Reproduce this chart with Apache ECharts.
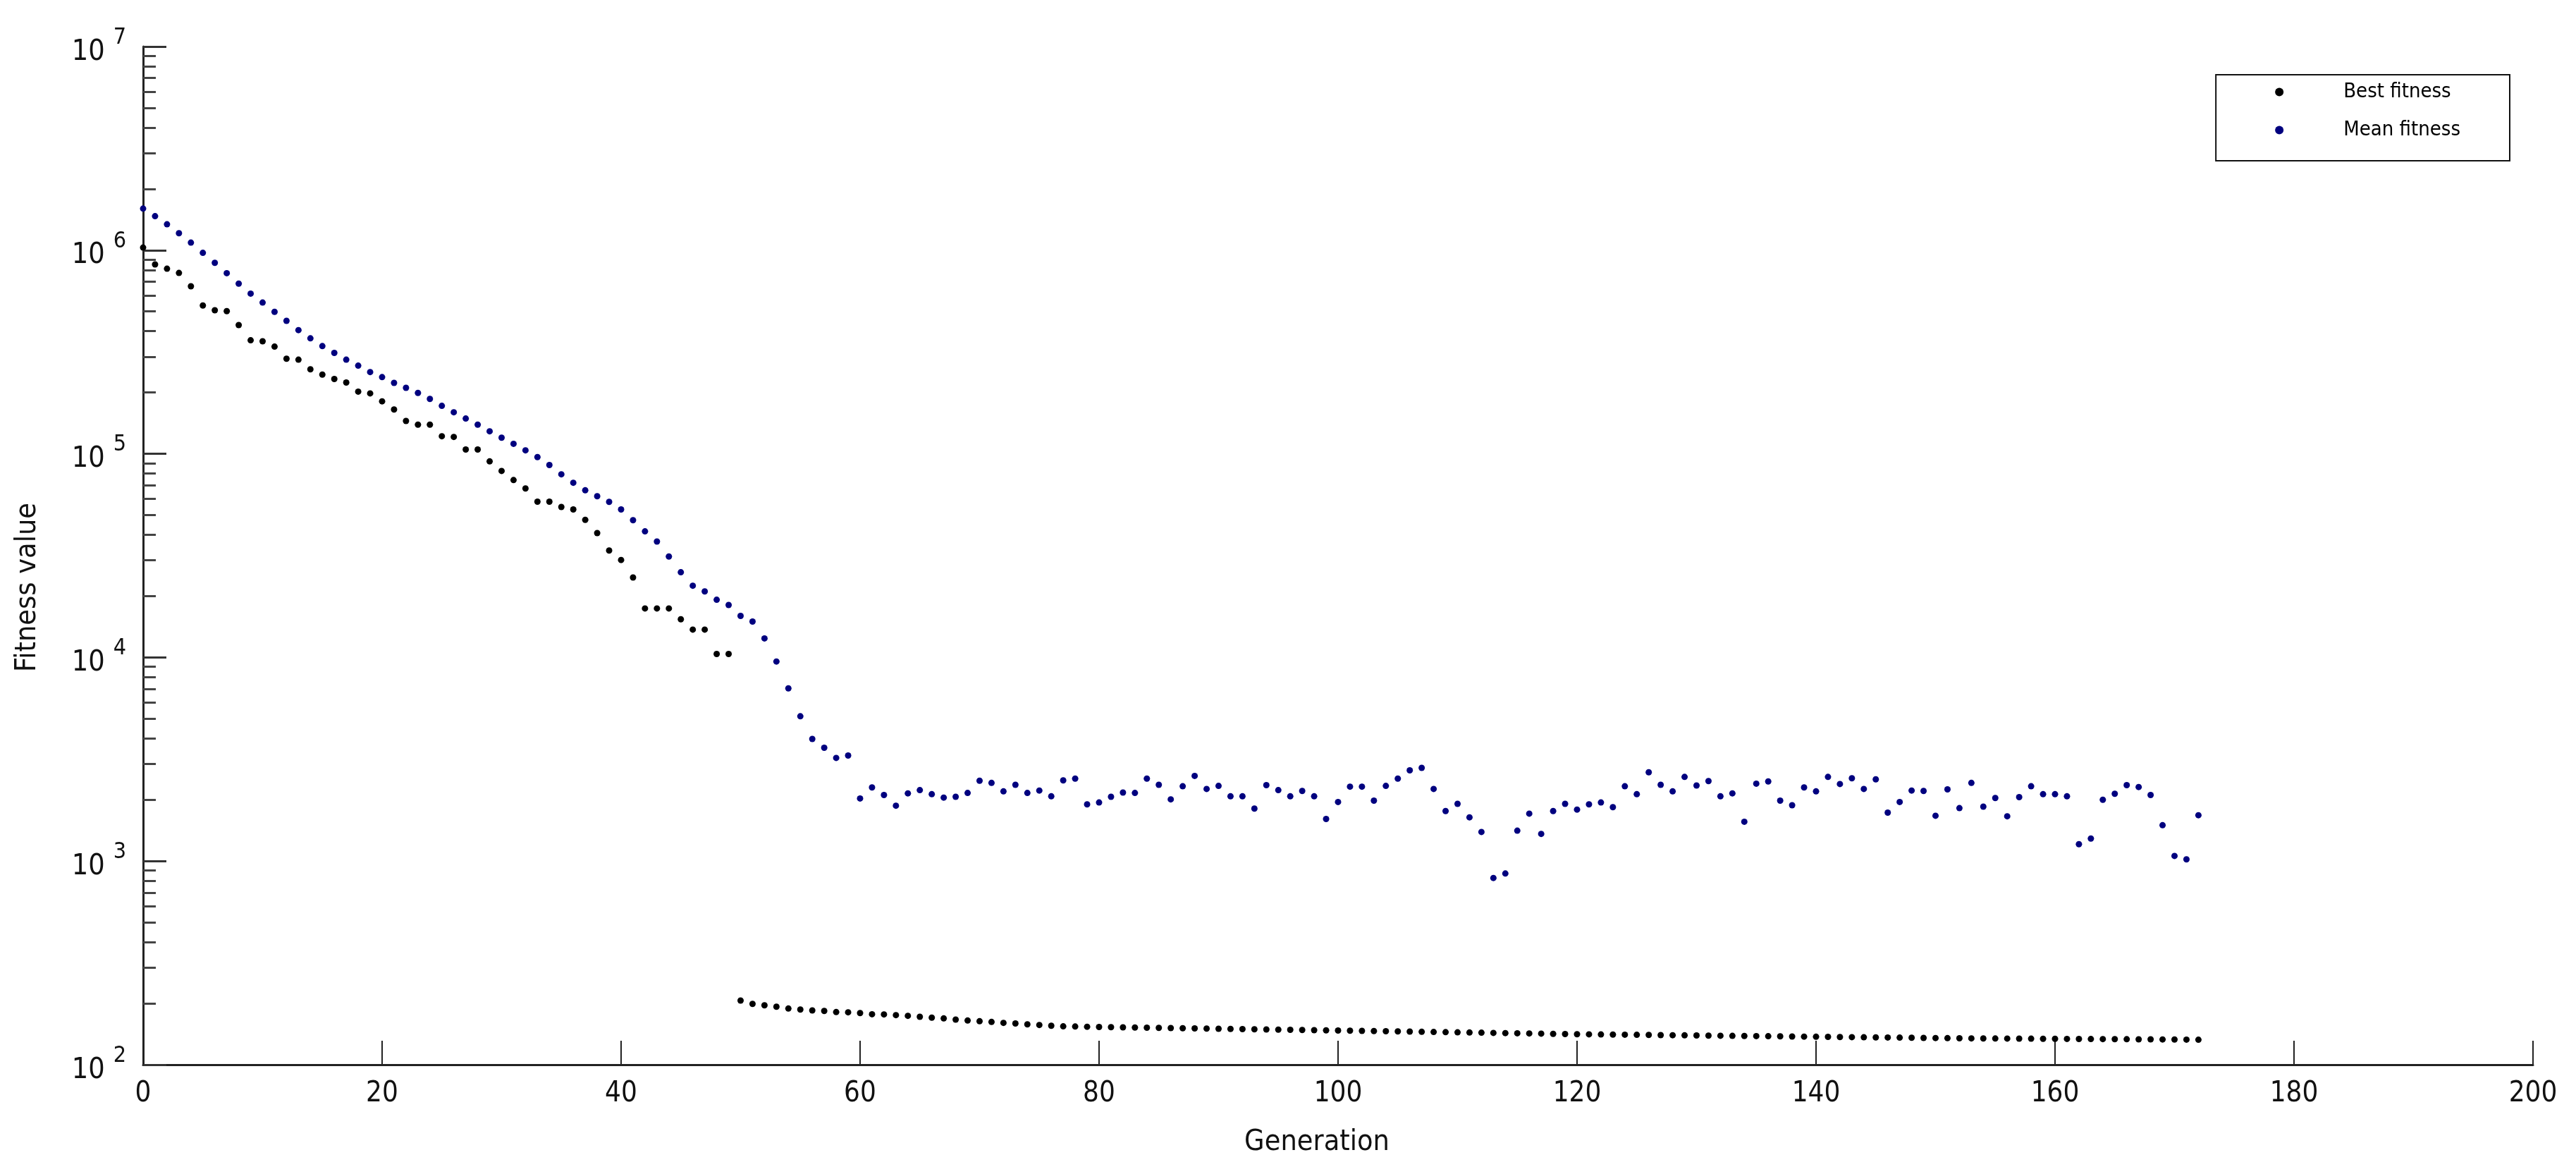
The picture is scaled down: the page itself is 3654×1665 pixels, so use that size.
<!DOCTYPE html>
<html>
<head>
<meta charset="utf-8">
<title>Fitness value</title>
<script src="https://cdn.jsdelivr.net/npm/echarts@6.0.0/dist/echarts.min.js"></script>
<style>
html, body { margin: 0; padding: 0; background: #fff; }
#chart { width: 3654px; height: 1665px; }
</style>
</head>
<body>
<div id="chart"></div>
<script>
// best fitness per generation (0..172)
var bestFitness = [
	1030000, 851000, 811000, 773000, 665000, 535000, 507000, 502000, 429000, 361000,
	357000, 336000, 293000, 290000, 260000, 245000, 233000, 224000, 202000, 198000,
	181000, 165000, 145000, 139000, 139000, 122000, 121000, 105000, 105000, 91800,
	82400, 74300, 67600, 58200, 58200, 54800, 53300, 47400, 40800, 33500,
	30100, 24700, 17400, 17400, 17400, 15400, 13700, 13700, 10400, 10400,
	206.5, 198.9, 195.8, 192.7, 188.7, 186.7, 184.7, 183.7, 181.3, 180.9,
	179.4, 177.0, 176.6, 175.2, 173.8, 172.0, 170.2, 168.8, 166.6, 164.8,
	163.5, 162.2, 160.5, 159.4, 157.9, 156.7, 155.4, 154.3, 154.0, 153.6,
	153.2, 152.9, 152.6, 152.3, 152.0, 151.7, 151.4, 151.1, 150.8, 150.5,
	150.2, 149.9, 149.6, 149.3, 149.0, 148.7, 148.4, 148.1, 147.8, 147.5,
	147.2, 146.9, 146.6, 146.3, 146.0, 145.7, 145.4, 145.1, 144.8, 144.5,
	144.2, 143.9, 143.6, 143.3, 143.0, 142.7, 142.4, 142.1, 141.8, 141.5,
	141.2, 141.0, 140.8, 140.6, 140.4, 140.2, 140.0, 139.8, 139.6, 139.4,
	139.2, 139.0, 138.8, 138.6, 138.4, 138.2, 138.0, 137.8, 137.6, 137.4,
	137.2, 137.0, 136.8, 136.6, 136.4, 136.2, 136.0, 135.8, 135.6, 135.4,
	135.2, 135.0, 134.8, 134.7, 134.6, 134.5, 134.4, 134.3, 134.2, 134.1,
	134.0, 133.9, 133.8, 133.7, 133.6, 133.5, 133.4, 133.3, 133.2, 133.1,
	133.0, 132.8, 132.6
];

// mean fitness per generation (0..172)
var meanFitness = [
	1600000, 1469000, 1340000, 1211000, 1089000, 970000, 867000, 771000, 685000, 612000,
	553000, 498000, 450000, 405000, 369000, 338000, 313000, 290000, 271000, 252000,
	238000, 223000, 211000, 199000, 186000, 172000, 160000, 149000, 139000, 129000,
	120000, 112000, 104000, 96400, 88100, 79300, 72100, 66200, 61900, 58100,
	53300, 47200, 41600, 37100, 31300, 26200, 22500, 21100, 19200, 18100,
	16000, 15000, 12400, 9550, 7050, 5140, 3980, 3600, 3210, 3300,
	2030, 2300, 2110, 1870, 2150, 2230, 2130, 2050, 2070, 2160,
	2480, 2420, 2200, 2370, 2160, 2220, 2080, 2490, 2540, 1900,
	1940, 2070, 2170, 2160, 2540, 2370, 2010, 2330, 2620, 2260,
	2340, 2080, 2080, 1810, 2360, 2230, 2080, 2210, 2080, 1610,
	1950, 2320, 2320, 1980, 2340, 2540, 2790, 2870, 2260, 1760,
	1910, 1640, 1390, 826, 869, 1410, 1710, 1360, 1760, 1910,
	1790, 1900, 1940, 1840, 2330, 2130, 2730, 2370, 2200, 2590,
	2350, 2470, 2080, 2150, 1560, 2400, 2460, 1980, 1880, 2300,
	2200, 2590, 2390, 2550, 2260, 2520, 1730, 1950, 2220, 2210,
	1670, 2250, 1820, 2420, 1850, 2040, 1660, 2060, 2330, 2130,
	2130, 2080, 1210, 1290, 2000, 2140, 2360, 2310, 2110, 1500,
	1060, 1020, 1680
];

var seriesNames = ['Best fitness', 'Mean fitness'];
var yDecades = [2, 3, 4, 5, 6, 7];
var yMantissas = [2, 3, 4, 5, 6, 7, 8, 9];

var fontName = '"DejaVu Sans Condensed", "DejaVu Sans", sans-serif';

function toPoints(values) {
	var pts = [];
	for (var i = 0; i < values.length; i++) {
		pts.push([i, values[i]]);
	}
	return pts;
}

// 2..9 x 10^k ticks between the decades
function minorTicks() {
	var list = [];
	for (var i = 0; i < yDecades.length - 1; i++) {
		for (var j = 0; j < yMantissas.length; j++) {
			list.push(yMantissas[j] * Math.pow(10, yDecades[i]));
		}
	}
	return list;
}

var chart = echarts.init(document.getElementById('chart'));
chart.setOption({
	animation: false,
	backgroundColor: '#fff',
	textStyle: { fontFamily: fontName },
	grid: { left: 203, right: 61, top: 66, bottom: 155, containLabel: false },
	legend: {
		data: seriesNames,
		orient: 'vertical',
		right: 94,
		top: 106,
		borderColor: '#111',
		borderWidth: 2,
		padding: [10, 70, 29, 84],
		itemGap: 25,
		itemWidth: 12,
		itemHeight: 12,
		textStyle: { fontSize: 29, color: '#000', fontFamily: fontName, padding: [0, 0, 0, 80] }
	},
	xAxis: {
		type: 'value',
		min: 0,
		max: 200,
		interval: 20,
		name: 'Generation',
		nameLocation: 'middle',
		nameGap: 90,
		nameTextStyle: { fontSize: 41, color: '#111', fontFamily: fontName, padding: [0, 60, 0, 0] },
		axisLine: { lineStyle: { color: '#222', width: 3 } },
		axisTick: { inside: true, length: 34, lineStyle: { color: '#222', width: 2 } },
		axisLabel: { fontSize: 40, color: '#111', margin: 22, fontFamily: fontName },
		splitLine: { show: false }
	},
	yAxis: [{
		type: 'log',
		logBase: 10,
		min: 100,
		max: 10000000,
		name: 'Fitness value',
		nameLocation: 'middle',
		nameGap: 143,
		nameTextStyle: { fontSize: 41, color: '#111', fontFamily: fontName, padding: [0, 90, 0, 0] },
		axisLine: { lineStyle: { color: '#222', width: 3 } },
		axisTick: { inside: true, length: 33, lineStyle: { color: '#333', width: 3 } },
		axisLabel: {
			margin: 24,
			formatter: function(v) {
				var e = Math.round(Math.log(v) / Math.LN10);
				return '{b|10}{e|' + e + '}';
			},
			rich: {
				b: { fontSize: 41, color: '#111', fontFamily: fontName, verticalAlign: 'bottom', padding: [16, 0, 0, 0] },
				e: { fontSize: 32, color: '#111', fontFamily: fontName, verticalAlign: 'top', padding: [0, 0, 0, 12] }
			}
		},
		splitLine: { show: false }
	}, {
		type: 'log',
		logBase: 10,
		min: 100,
		max: 10000000,
		position: 'left',
		axisLine: { show: false },
		axisTick: { inside: true, length: 18, customValues: minorTicks(), lineStyle: { color: '#444', width: 3 } },
		axisLabel: { show: false },
		splitLine: { show: false }
	}],
	series: [{
		name: seriesNames[0],
		type: 'scatter',
		yAxisIndex: 0,
		symbolSize: 9,
		itemStyle: { color: '#000', opacity: 1 },
		data: toPoints(bestFitness)
	}, {
		name: seriesNames[1],
		type: 'scatter',
		yAxisIndex: 0,
		symbolSize: 9,
		itemStyle: { color: '#00007f', opacity: 1 },
		data: toPoints(meanFitness)
	}]
});
</script>
</body>
</html>
